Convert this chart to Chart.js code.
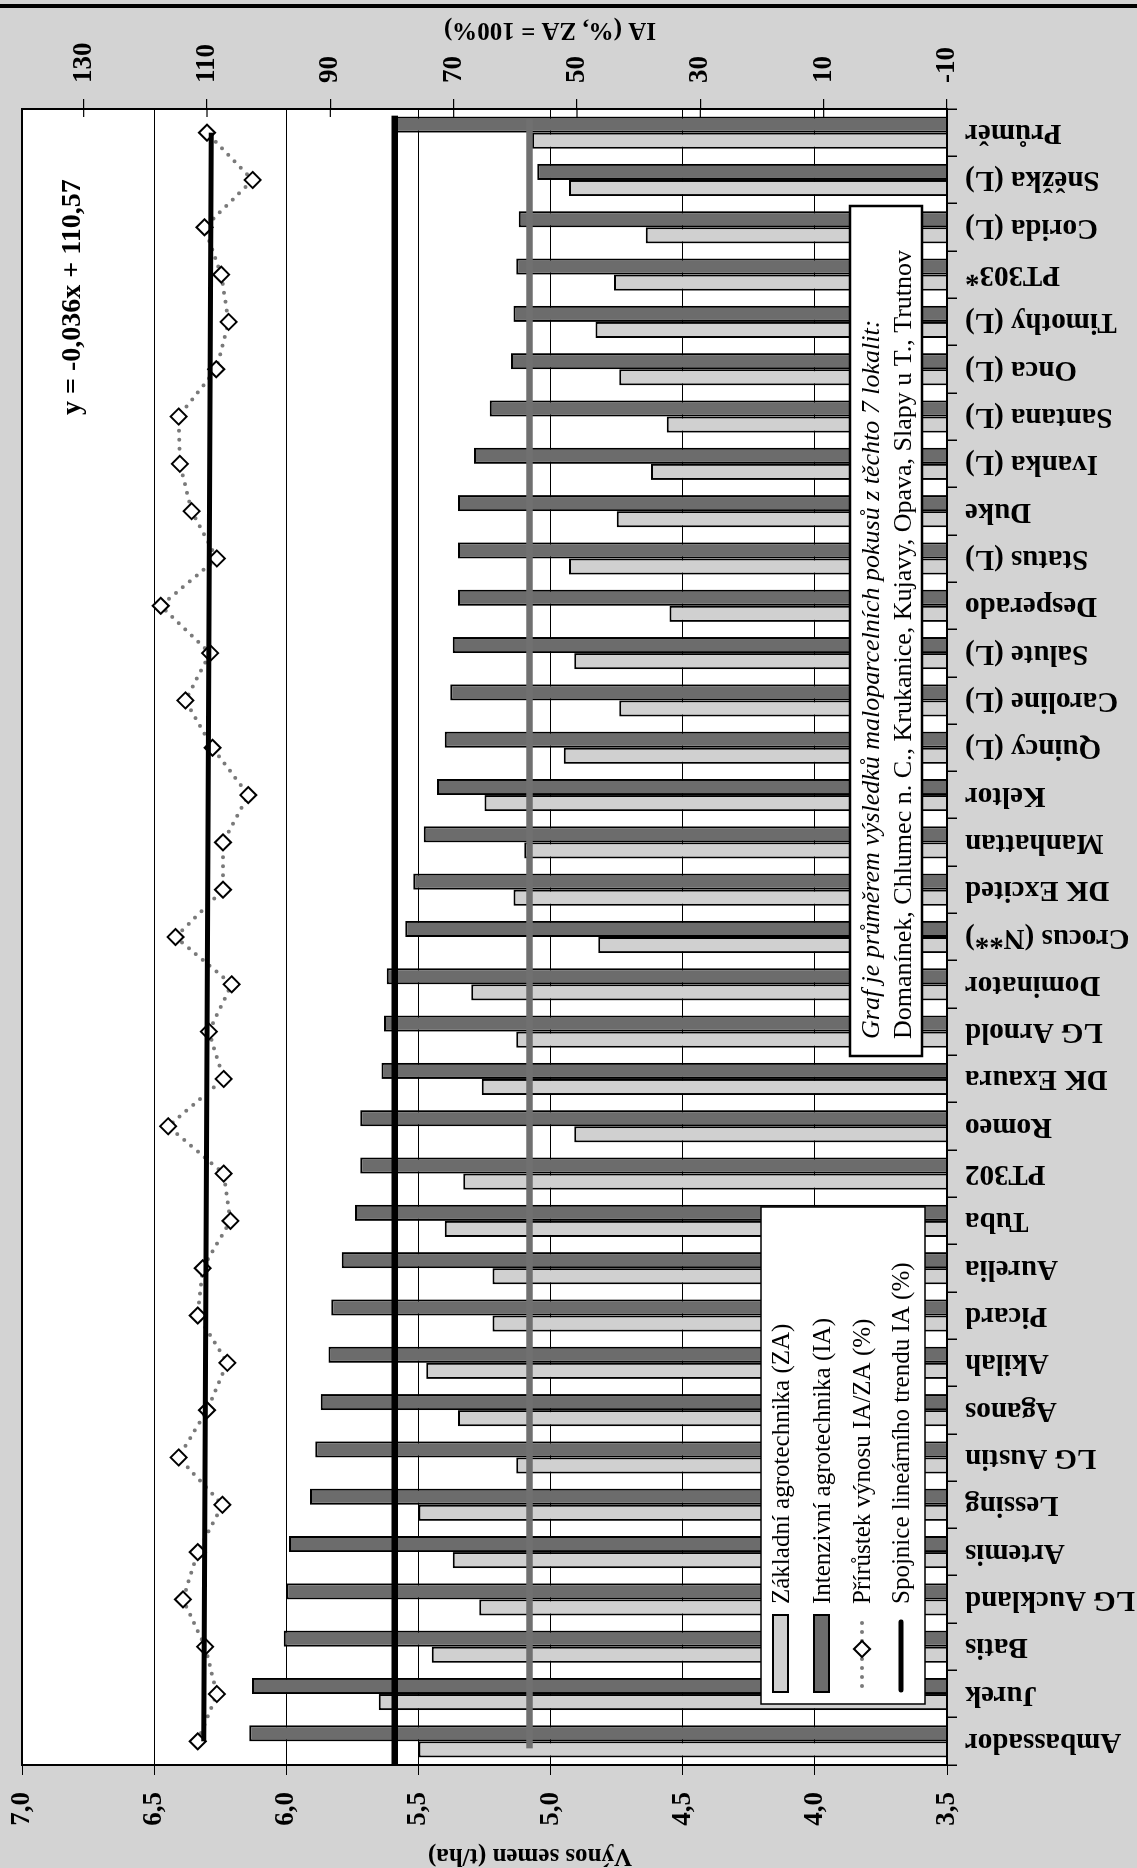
<!DOCTYPE html>
<html>
<head>
<meta charset="utf-8">
<script src="https://cdn.jsdelivr.net/npm/chart.js@4.4.0/dist/chart.umd.min.js"></script>
<style>
  html, body { margin: 0; padding: 0; background: #d3d3d3; }
  body { width: 1137px; height: 1868px; overflow: hidden; position: relative; }
  /* the chart is drawn landscape and turned a quarter left, like the printed page */
  #wrap { position: absolute; left: 0; top: 0; width: 1868px; height: 1137px;
          transform-origin: 0 0; transform: translateY(1868px) rotate(-90deg); }
</style>
</head>
<body>
<div id="wrap"><canvas id="chart" width="1868" height="1137"></canvas></div>
<script>
const varieties = ["Ambassador", "Jurek", "Batis", "LG Auckland", "Artemis", "Lessing", "LG Austin",
    "Aganos", "Akilah", "Picard", "Aurelia", "Tuba", "PT302", "Romeo", "DK Exaura", "LG Arnold",
    "Dominator", "Crocus (N**)", "DK Excited", "Manhattan", "Keltor", "Quincy (L)", "Caroline (L)",
    "Salute (L)", "Desperado", "Status (L)", "Duke", "Ivanka (L)", "Santana (L)", "Onca (L)",
    "Timothy (L)", "PT303*", "Corida (L)", "Sněžka (L)", "Průměr"];

// výnos semen, t/ha
const yieldZA = [5.50, 5.65, 5.45, 5.27, 5.37, 5.50, 5.13, 5.35, 5.47, 5.22, 5.22, 5.40, 5.33, 4.91,
    5.26, 5.13, 5.30, 4.82, 5.14, 5.10, 5.25, 4.95, 4.74, 4.91, 4.55, 4.93, 4.75, 4.62, 4.56, 4.74,
    4.83, 4.76, 4.64, 4.93, 5.07];
const yieldIA = [6.14, 6.13, 6.01, 6.00, 5.99, 5.91, 5.89, 5.87, 5.84, 5.83, 5.79, 5.74, 5.72, 5.72,
    5.64, 5.63, 5.62, 5.55, 5.52, 5.48, 5.43, 5.40, 5.38, 5.37, 5.35, 5.35, 5.35, 5.29, 5.23, 5.15,
    5.14, 5.13, 5.12, 5.05, 5.59];

// IA v % ZA
const gainPct = [111.5, 108.4, 110.3, 113.9, 111.5, 107.5, 114.6, 110.0, 106.7, 111.5, 110.7, 106.2,
    107.3, 116.3, 107.3, 109.7, 106.0, 115.1, 107.4, 107.4, 103.3, 109.1, 113.5, 109.5, 117.5, 108.4,
    112.5, 114.4, 114.6, 108.5, 106.5, 107.7, 110.4, 102.6, 110.0];

const trendEnds = [110.53, 109.31];   // first and last point of the trend line
const averages = [5.08, 5.59];        // ZA, IA averages (long horizontal lines)
const pctTicks = [-10, 10, 30, 50, 70, 90, 110, 130];

const SERIF = '"Liberation Serif", "Times New Roman", serif';
const ZA_COLOR = '#d0d0d0';
const IA_COLOR = '#6c6c6c';
const DOT_COLOR = '#7a7a7a';

const trendData = varieties.map((v, i) =>
    i === 0 ? trendEnds[0] : (i === varieties.length - 1 ? trendEnds[1] : null));

function diamond(ctx, x, y, r) {
    ctx.beginPath();
    ctx.moveTo(x - r, y);
    ctx.lineTo(x, y - r);
    ctx.lineTo(x + r, y);
    ctx.lineTo(x, y + r);
    ctx.closePath();
    ctx.fillStyle = '#fff';
    ctx.fill();
    ctx.lineWidth = 2;
    ctx.strokeStyle = '#000';
    ctx.stroke();
}

// fixed axis sizes; drop the label overhang so the plot keeps its place
function fixWidth(w) {
    return s => { s.width = w; s.paddingTop = 0; s.paddingBottom = 0; };
}

const decor = {
    id: 'decor',
    beforeDraw(chart) {
        const { ctx, chartArea: a } = chart;
        ctx.save();
        ctx.fillStyle = '#d3d3d3';
        ctx.fillRect(0, 0, chart.width, chart.height);
        ctx.fillStyle = '#fff';
        ctx.fillRect(a.left, a.top, a.right - a.left, a.bottom - a.top);
        ctx.restore();
    },
    afterDatasetsDraw(chart) {
        const { ctx, chartArea: a } = chart;
        const x = chart.scales.x, y = chart.scales.y, y2 = chart.scales.y2;
        const last = varieties.length - 1;
        ctx.save();

        // average lines
        ctx.lineCap = 'butt';
        ctx.lineWidth = 6.5;
        ctx.strokeStyle = '#707070';
        ctx.beginPath();
        ctx.moveTo(x.getPixelForValue(0) - 7, y.getPixelForValue(averages[0]));
        ctx.lineTo(x.getPixelForValue(last) + 14, y.getPixelForValue(averages[0]));
        ctx.stroke();
        ctx.strokeStyle = '#000';
        ctx.beginPath();
        ctx.moveTo(a.left, y.getPixelForValue(averages[1]));
        ctx.lineTo(x.getPixelForValue(last) + 17, y.getPixelForValue(averages[1]));
        ctx.stroke();

        // frame + inner ticks of the % axis
        ctx.lineWidth = 2;
        ctx.strokeRect(a.left, a.top, a.right - a.left, a.bottom - a.top);
        ctx.lineWidth = 1.2;
        pctTicks.forEach(v => {
            const py = y2.getPixelForValue(v);
            ctx.beginPath();
            ctx.moveTo(a.right - 8, py);
            ctx.lineTo(a.right, py);
            ctx.stroke();
        });

        // page edge line
        ctx.fillStyle = '#000';
        ctx.fillRect(1860, 0, 4, chart.height);

        // axis titles
        ctx.fillStyle = '#000';
        ctx.textAlign = 'center';
        ctx.textBaseline = 'middle';
        ctx.font = 'bold 25px ' + SERIF;
        [[13, 530, 'Výnos semen (t/ha)'], [1839, 550, 'IA (%, ZA = 100%)']].forEach(t => {
            ctx.save();
            ctx.translate(t[0], t[1]);
            ctx.rotate(-Math.PI / 2);
            ctx.fillText(t[2], 0, 0);
            ctx.restore();
        });

        // trend equation
        ctx.textAlign = 'left';
        ctx.font = 'bold 28px ' + SERIF;
        ctx.fillText('y = -0,036x + 110,57', 1453, 73);

        // note box
        ctx.fillStyle = '#fff';
        ctx.fillRect(812, 850, 850, 72);
        ctx.lineWidth = 2.5;
        ctx.strokeRect(812, 850, 850, 72);
        ctx.fillStyle = '#000';
        ctx.font = 'italic 26px ' + SERIF;
        ctx.fillText('Graf je průměrem výsledků maloparcelních pokusů z těchto 7 lokalit:', 829, 872);
        ctx.font = '26px ' + SERIF;
        ctx.fillText('Domanínek, Chlumec n. C., Krukanice, Kujavy, Opava, Slapy u T., Trutnov', 829, 904);

        // legend
        ctx.fillStyle = '#fff';
        ctx.fillRect(164, 761, 497, 164);
        ctx.lineWidth = 1.5;
        ctx.strokeRect(164, 761, 497, 164);
        const ds = chart.data.datasets;
        const rows = [781, 822, 862, 901];
        [ds[2], ds[3], ds[1], ds[0]].forEach((d, i) => {
            const cy = rows[i];
            if (i < 2) {
                ctx.fillStyle = d.backgroundColor;
                ctx.fillRect(176, cy - 8, 77, 15);
                ctx.lineWidth = 2;
                ctx.strokeStyle = '#000';
                ctx.strokeRect(176, cy - 8, 77, 15);
            } else if (i === 2) {
                ctx.save();
                ctx.setLineDash([0, 9]);
                ctx.lineCap = 'round';
                ctx.lineWidth = 4;
                ctx.strokeStyle = DOT_COLOR;
                ctx.beginPath();
                ctx.moveTo(182, cy);
                ctx.lineTo(254, cy);
                ctx.stroke();
                ctx.restore();
                diamond(ctx, 219, cy, 8);
            } else {
                ctx.lineCap = 'round';
                ctx.lineWidth = 5;
                ctx.strokeStyle = '#000';
                ctx.beginPath();
                ctx.moveTo(178, cy);
                ctx.lineTo(246, cy);
                ctx.stroke();
            }
            ctx.fillStyle = '#000';
            ctx.font = '25px ' + SERIF;
            ctx.textAlign = 'left';
            ctx.textBaseline = 'middle';
            ctx.fillText(d.label, 264, cy + 1);
        });
        ctx.restore();
    }
};

const tickFont = { family: SERIF, size: 27, weight: 'bold' };

new Chart(document.getElementById('chart'), {
    type: 'bar',
    data: {
        labels: varieties,
        datasets: [
            {
                label: 'Spojnice lineárního trendu IA (%)', type: 'line', data: trendData, yAxisID: 'y2',
                borderColor: '#000', borderWidth: 5, pointRadius: 0, spanGaps: true, order: 0
            },
            {
                label: 'Přírůstek výnosu IA/ZA (%)', type: 'line', data: gainPct, yAxisID: 'y2',
                borderColor: DOT_COLOR, borderWidth: 4, borderDash: [0, 9], borderCapStyle: 'round',
                pointStyle: 'rectRot', pointRadius: 8, pointBackgroundColor: '#fff',
                pointBorderColor: '#000', pointBorderWidth: 2, order: 1
            },
            {
                label: 'Základní agrotechnika (ZA)', data: yieldZA, yAxisID: 'y',
                backgroundColor: ZA_COLOR, borderColor: '#000', borderWidth: 2,
                categoryPercentage: 0.68, barPercentage: 1, order: 2
            },
            {
                label: 'Intenzivní agrotechnika (IA)', data: yieldIA, yAxisID: 'y',
                backgroundColor: IA_COLOR, borderColor: '#000', borderWidth: 2,
                categoryPercentage: 0.68, barPercentage: 1, order: 2
            }
        ]
    },
    options: {
        responsive: false,
        animation: false,
        devicePixelRatio: 1,
        layout: { padding: { top: 22, left: 0, right: 0, bottom: 0 } },
        plugins: { legend: { display: false }, tooltip: { enabled: false } },
        scales: {
            x: {
                ticks: { autoSkip: false, minRotation: 90, maxRotation: 90, padding: 8, color: '#000',
                    font: { family: SERIF, size: 29, weight: 'bold' } },
                grid: { drawOnChartArea: false, color: '#000', tickLength: 10, lineWidth: 1.5, offset: true },
                border: { display: false },
                afterFit: s => { s.height = 190; s.paddingLeft = 0; s.paddingRight = 0; }
            },
            y: {
                position: 'left', min: 3.5, max: 7,
                ticks: { stepSize: 0.5, padding: 17, color: '#000', font: tickFont,
                    callback: v => v.toFixed(1).replace('.', ',') },
                grid: { color: '#000', lineWidth: 1, tickLength: 10 },
                border: { display: false },
                afterFit: fixWidth(103)
            },
            y2: {
                position: 'right', min: -10, max: 140,
                afterBuildTicks: s => { s.ticks = pctTicks.map(v => ({ value: v })); },
                ticks: { padding: 16, color: '#000', font: tickFont },
                grid: { drawOnChartArea: false, color: '#000', lineWidth: 1.2, tickLength: 10 },
                border: { display: false },
                afterFit: fixWidth(109)
            }
        }
    },
    plugins: [decor]
});
</script>
</body>
</html>
